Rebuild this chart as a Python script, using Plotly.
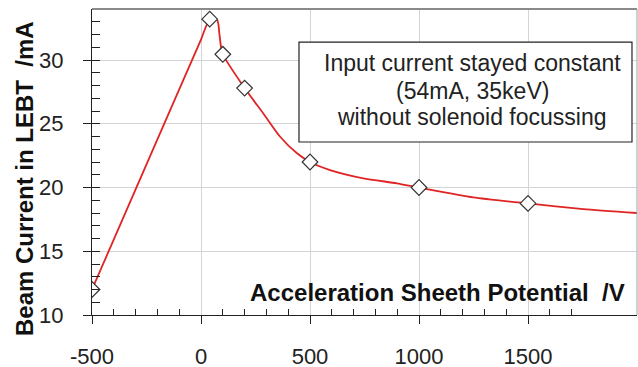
import plotly.graph_objects as go

# Measured points (markers)
pot_v = [-500, 40, 100, 200, 500, 1000, 1500]
current_ma = [12.0, 33.2, 30.45, 27.8, 22.0, 20.0, 18.75]

# Fitted curve
curve_x = [-500, -230, 0, 40, 75, 84, 92, 100, 200, 286, 362, 439, 500, 592, 745, 898, 1000, 1249, 1500, 1754, 2000]
curve_y = [12.0, 22.6, 31.6, 33.2, 33.1, 32.1, 31.0, 30.45, 27.8, 25.8, 24.0, 22.7, 22.0, 21.37, 20.72, 20.33, 20.0, 19.23, 18.75, 18.31, 18.0]

x_ticks = [-500, 0, 500, 1000, 1500]
y_ticks = [10, 15, 20, 25, 30]

box_lines = ["Input current stayed constant", "(54mA, 35keV)", "without solenoid focussing"]

FONT = "Liberation Sans, Arial, sans-serif"

fig = go.Figure()
fig.add_trace(go.Scatter(x=curve_x, y=curve_y, mode="lines",
                         line=dict(color="#e02424", width=1.8, shape="spline", smoothing=0.6),
                         hoverinfo="skip", showlegend=False))
fig.add_trace(go.Scatter(x=pot_v, y=current_ma, mode="markers",
                         marker=dict(symbol="diamond", size=12, color="white",
                                     line=dict(color="#333333", width=1.2)),
                         showlegend=False))

fig.update_layout(
    width=638, height=367,
    margin=dict(l=92, r=1, t=9, b=52, autoexpand=False),
    paper_bgcolor="white", plot_bgcolor="white",
    font=dict(family=FONT, color="#222222"),
    xaxis=dict(range=[-500, 2000], tickvals=x_ticks, ticktext=[str(v) for v in x_ticks],
               automargin=False,
               showgrid=True, gridcolor="#d4d4d8", gridwidth=1, zeroline=False,
               showline=True, linecolor="#222222", linewidth=1.2,
               ticks="outside", ticklen=8, tickcolor="#222222",
               tickfont=dict(size=22, family=FONT, color="#222222"),
               ticklabelstandoff=13,
               minor=dict(tickvals=[-400, -300, -200, -100, 100, 200, 300, 400, 600, 700, 800, 900,
                                    1100, 1200, 1300, 1400, 1600, 1700],
                          ticks="inside", ticklen=6, tickcolor="#222222", showgrid=False)),
    yaxis=dict(range=[10, 34], tickvals=y_ticks, ticktext=[str(v) for v in y_ticks],
               automargin=False,
               showgrid=True, gridcolor="#d4d4d8", gridwidth=1, zeroline=False,
               showline=True, linecolor="#222222", linewidth=1.2,
               ticks="outside", ticklen=8, tickcolor="#222222",
               tickfont=dict(size=22, family=FONT, color="#222222"),
               ticklabelstandoff=15,
               minor=dict(dtick=1, ticks="inside", ticklen=8, tickcolor="#222222", showgrid=False)),
)

# top and right frame
fig.add_shape(type="line", xref="paper", yref="paper", x0=0, x1=1, y0=1, y1=1,
              line=dict(color="#8a8a8a", width=2))
fig.add_shape(type="line", xref="paper", yref="paper", x0=1, x1=1, y0=0, y1=1,
              line=dict(color="#a0a0a0", width=1))

# annotation box
fig.add_shape(type="rect", xref="paper", yref="paper", x0=0.3798, x1=0.9908, y0=0.5654, y1=0.892,
              line=dict(color="#222222", width=1.2), fillcolor="white", layer="above")
for txt, yp in zip(box_lines, [63, 91, 117]):
    fig.add_annotation(text=txt, xref="paper", yref="paper", x=(472 - 92) / 545, y=(315 - yp) / 306,
                       xanchor="center", yanchor="middle", showarrow=False,
                       font=dict(size=23, family=FONT, color="#222222"))

# axis titles
fig.add_annotation(text="<b>Acceleration Sheeth Potential  /V</b>", xref="paper", yref="paper",
                   x=(627 - 92) / 545, y=(315 - 292) / 306, xanchor="right", yanchor="middle",
                   showarrow=False, font=dict(size=24, family=FONT, color="#111111"))
fig.add_annotation(text="<b>Beam Current in LEBT  /mA</b>", xref="paper", yref="paper",
                   x=(24 - 92) / 545, y=(315 - 179) / 306, xanchor="center", yanchor="middle",
                   textangle=-90, showarrow=False, font=dict(size=24, family=FONT, color="#111111"))

fig.write_html("out.html", config={"displayModeBar": False},
               post_script="document.body.style.margin='0';document.body.style.overflow='hidden';")
